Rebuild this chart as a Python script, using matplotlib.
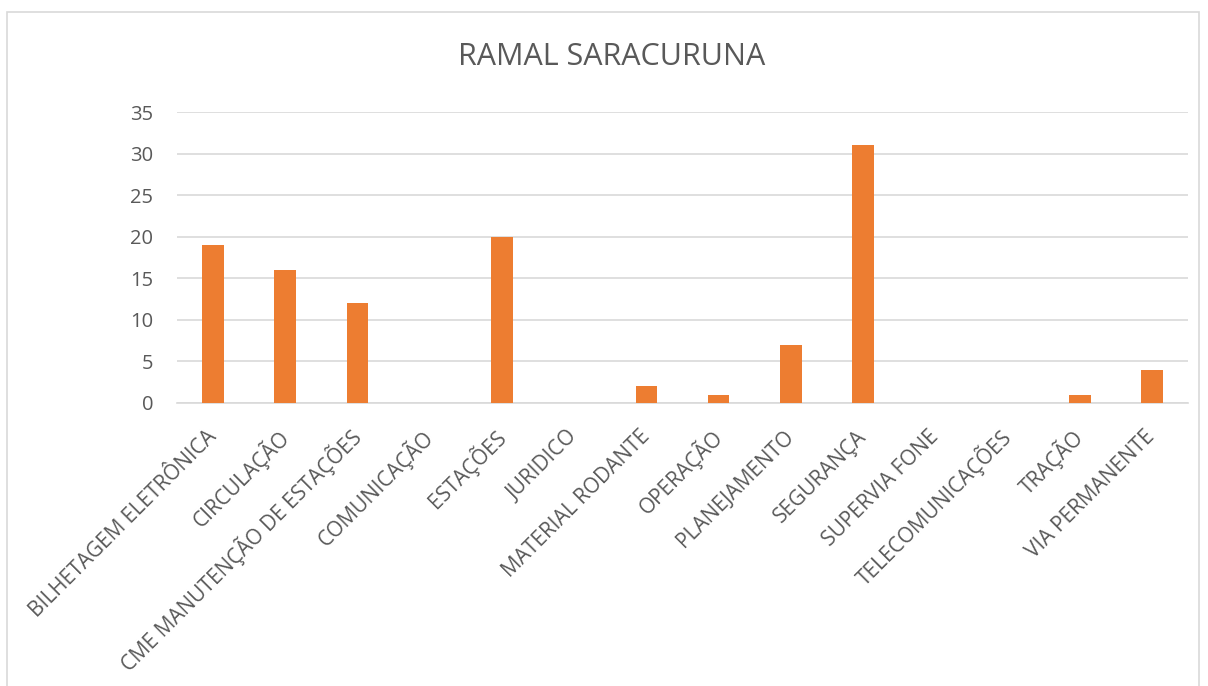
import matplotlib
matplotlib.use("Agg")
import matplotlib.pyplot as plt
from matplotlib.patches import Rectangle

categories = ["BILHETAGEM ELETRÔNICA", "CIRCULAÇÃO", "CME MANUTENÇÃO DE ESTAÇÕES",
              "COMUNICAÇÃO", "ESTAÇÕES", "JURIDICO", "MATERIAL RODANTE", "OPERAÇÃO",
              "PLANEJAMENTO", "SEGURANÇA", "SUPERVIA FONE", "TELECOMUNICAÇÕES",
              "TRAÇÃO", "VIA PERMANENTE"]
values = [19, 16, 12, 0, 20, 0, 2, 1, 7, 31, 0, 0, 1, 4]
yticks = [0, 5, 10, 15, 20, 25, 30, 35]
title = "RAMAL SARACURUNA"

plt.rcParams['font.family'] = ['Open Sans', 'DejaVu Sans']

W, H = 1208, 686
fig = plt.figure(figsize=(W/100, H/100), dpi=100)
fig.patches.append(Rectangle((7/W, -0.01), (1199-7)/W, (686-12)/H + 0.01,
                             transform=fig.transFigure, fill=False,
                             edgecolor='#D9D9D9', linewidth=1.2))

ax = fig.add_axes([177/W, 1-403/H, (1188-177)/W, (403-112)/H])
x = list(range(len(categories)))
ax.bar(x, values, width=0.3, color='#ED7D31', zorder=3)
ax.set_xlim(-0.5, len(categories)-0.5)
ax.set_ylim(0, 35)
ax.set_yticks(yticks)
ax.set_yticklabels([str(v) for v in yticks], fontsize=14.5, color='#595959')
ax.yaxis.grid(True, color='#D9D9D9', linewidth=1.2, zorder=0)
ax.set_axisbelow(True)
for s in ['top', 'right', 'left']:
    ax.spines[s].set_visible(False)
ax.spines['bottom'].set_color('#D9D9D9')
ax.spines['bottom'].set_linewidth(1.2)
ax.tick_params(axis='both', length=0)
ax.tick_params(axis='y', pad=17)
ax.set_xticks(x)
ax.set_xticklabels(categories, rotation=45, ha='right', va='center',
                   rotation_mode='anchor', fontsize=15, color='#595959')
ax.tick_params(axis='x', pad=22)

fig.text(612/W, 1-57/H, title, ha='center', va='center', fontsize=22, color='#595959')

fig.savefig("out.png", dpi=100)
